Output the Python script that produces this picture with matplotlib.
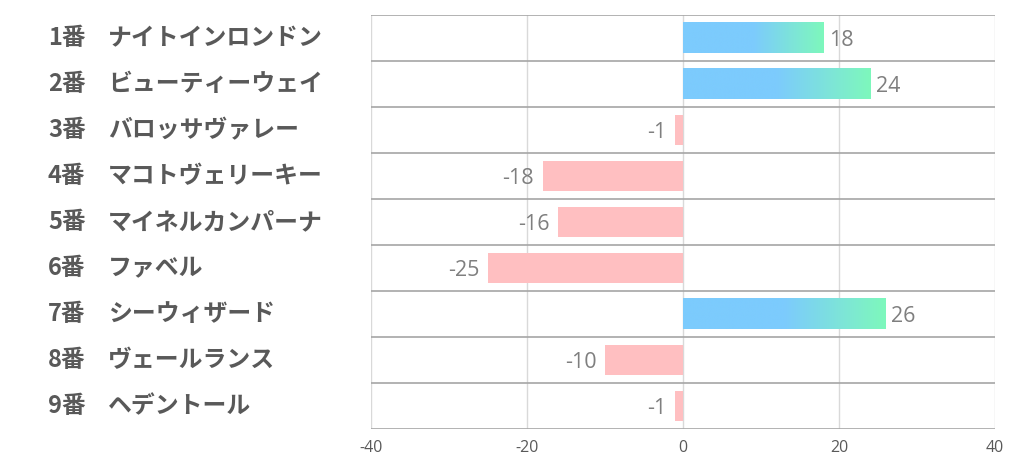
import matplotlib
matplotlib.use("Agg")
import matplotlib.pyplot as plt
import numpy as np
from matplotlib.colors import LinearSegmentedColormap

numbers = ["1番", "2番", "3番", "4番", "5番", "6番", "7番", "8番", "9番"]
names = ["ナイトインロンドン", "ビューティーウェイ", "バロッサヴァレー", "マコトヴェリーキー",
         "マイネルカンパーナ", "ファベル", "シーウィザード", "ヴェールランス", "ヘデントール"]
values = [18, 24, -1, -18, -16, -25, 26, -10, -1]
xticks = [-40, -20, 0, 20, 40]

blue = "#7ccbfd"
green = "#7ef8bc"
pink = "#ffbfc1"
cmap = LinearSegmentedColormap.from_list("g", [(0, blue), (0.5, blue), (1, green)])

fig = plt.figure(figsize=(10.22, 4.70), dpi=100)
ax = fig.add_axes([371/1022, 1 - 429/470, (995-371)/1022, (429-15)/470])
n = len(values)
bh = 0.67
grad = np.linspace(0, 1, 256).reshape(1, -1)
for i, v in enumerate(values):
    yc = i + 0.5
    if v > 0:
        ax.imshow(grad, cmap=cmap, extent=(0, v, yc + bh/2, yc - bh/2),
                  aspect="auto", interpolation="bilinear", zorder=2)
        ax.text(v + 0.7, yc + 0.05, str(v), ha="left", va="center",
                fontsize=15.5, color="#7f7f7f", family="Open Sans")
    else:
        ax.barh(yc, v, height=bh, color=pink, zorder=2)
        ax.text(v - 1.1, yc + 0.05, str(v), ha="right", va="center",
                fontsize=15.5, color="#7f7f7f", family="Open Sans")
ax.set_xlim(-40, 40)
ax.set_ylim(n, 0)
for x in xticks:
    ax.axvline(x, color="#d9d9d9", lw=1, zorder=1)
for y in range(n + 1):
    ax.axhline(y, color="#a6a6a6", lw=1.2, zorder=3)
for s in ax.spines.values():
    s.set_visible(False)
ax.set_yticks([])
ax.set_xticks(xticks)
ax.set_xticklabels([str(t) for t in xticks], fontsize=11.5, color="#595959", family="Open Sans")
ax.tick_params(axis="x", length=0, pad=8)

for i in range(n):
    yc = i + 0.5
    yf = 1 - (15 + (429-15) * (yc / n)) / 470
    fig.text(48/1022, yf, numbers[i], ha="left", va="center", fontsize=17,
             fontweight="bold", color="#595959", family=["Noto Sans CJK JP", "DejaVu Sans"])
    fig.text(108/1022, yf, names[i], ha="left", va="center", fontsize=17.2,
             fontweight="bold", color="#595959", family=["Noto Sans CJK JP", "DejaVu Sans"])

fig.savefig("out.png", dpi=100, facecolor="white")
